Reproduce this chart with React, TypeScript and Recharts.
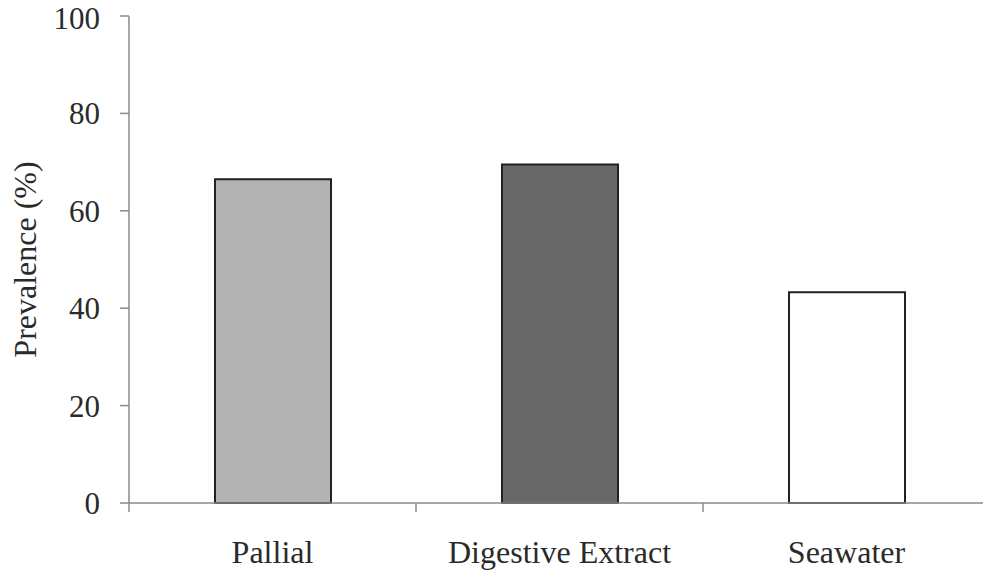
import React from "react";
import { BarChart, Bar, XAxis, YAxis, Cell, Label } from "recharts";

const categories = ["Pallial", "Digestive Extract", "Seawater"];
const prevalence = [66.5, 69.5, 43.3];
const barColors = ["#b3b3b3", "#686868", "#ffffff"];
const yTicks = [0, 20, 40, 60, 80, 100];
// boundaries between categories (tick marks) and category centres (labels)
const xTicks = [0, 0.5, 1, 1.5, 2, 2.5, 3];

const data = categories.map((name, i) => ({ name, value: prevalence[i], pos: i + 0.5 }));

const FONT = "'Liberation Serif', 'Times New Roman', serif";
const AXIS = "#8a8a8a";
const TEXT = "#2a2a2a";

const EdgeTick = (props: any) => {
  const { x, y, payload } = props;
  const v = payload.value as number;
  if (Number.isInteger(v)) {
    return <line x1={x} x2={x} y1={y} y2={y + 9} stroke={AXIS} strokeWidth={1.5} />;
  }
  return (
    <text
      x={x}
      y={y + 60}
      textAnchor="middle"
      fill={TEXT}
      fontSize={32}
      fontFamily={FONT}
    >
      {categories[Math.floor(v)]}
    </text>
  );
};

const App: React.FC = () => {
  return (
    <div
      style={{
        position: "absolute",
        left: 0,
        top: 0,
        width: 983,
        height: 575,
        overflow: "hidden",
        background: "#fff",
      }}
    >
      <BarChart
        width={1000}
        height={575}
        data={data}
        margin={{ top: 16, right: 10, left: 0, bottom: 0 }}
        style={{ fontFamily: FONT }}
      >
        <XAxis xAxisId="cat" dataKey="name" hide height={0} />
        <XAxis
          xAxisId="edges"
          dataKey="pos"
          type="number"
          domain={[0, 3]}
          ticks={xTicks}
          allowDataOverflow
          interval={0}
          height={72}
          tickLine={false}
          tickSize={0}
          tickMargin={0}
          tick={<EdgeTick />}
          axisLine={{ stroke: AXIS, strokeWidth: 1.5 }}
        />
        <YAxis
          width={129}
          domain={[0, 100]}
          ticks={yTicks}
          tickSize={9}
          tickMargin={20}
          tick={{ fill: TEXT, fontSize: 31, fontFamily: FONT }}
          tickLine={{ stroke: AXIS, strokeWidth: 1.5 }}
          axisLine={{ stroke: AXIS, strokeWidth: 1.5 }}
        >
          <Label
            content={({ viewBox }: any) => {
              const cx = 25;
              const cy = viewBox.y + viewBox.height / 2;
              return (
                <text
                  x={cx}
                  y={cy}
                  transform={`rotate(-90, ${cx}, ${cy})`}
                  textAnchor="middle"
                  dominantBaseline="central"
                  fill={TEXT}
                  fontSize={32}
                  fontFamily={FONT}
                >
                  Prevalence (%)
                </text>
              );
            }}
          />
        </YAxis>
        <Bar
          xAxisId="cat"
          dataKey="value"
          barSize={116}
          stroke="#222"
          strokeWidth={2}
          isAnimationActive={false}
        >
          {data.map((d, i) => (
            <Cell key={d.name} fill={barColors[i]} />
          ))}
        </Bar>
      </BarChart>
    </div>
  );
};

export default App;
